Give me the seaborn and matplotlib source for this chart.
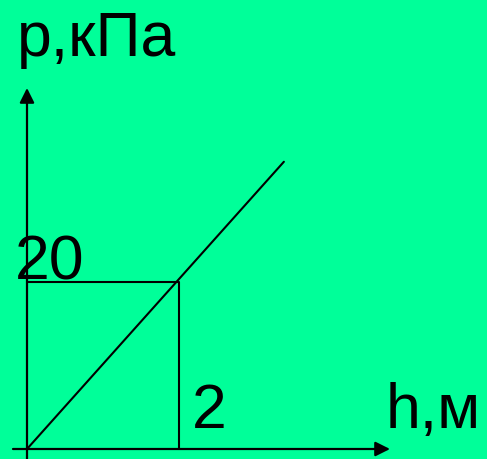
import matplotlib
matplotlib.use("Agg")
import matplotlib.pyplot as plt
import seaborn as sns
import pandas as pd

# data
h_line = [0.0, 3.38]
p_line = [0.0, 34.4]
h_mark = 2
p_mark = 20
x_label = "h,м"
y_label = "p,кПа"
x_tick_label = "2"
y_tick_label = "20"

BG = "#00FF99"
sns.set_style("white", {"axes.facecolor": BG, "figure.facecolor": BG})
plt.rcParams["font.family"] = ["Liberation Sans", "DejaVu Sans"]

fig = plt.figure(figsize=(4.87, 4.59), dpi=100)
ax = fig.add_axes([0, 0, 1, 1])
ax.set_facecolor(BG)

# pixel mapping: h=0 -> x 27, 76 px per m; p=0 -> y 449, 8.35 px per kPa
sx, sy = 76.0, 8.35
ax.set_xlim(-27 / sx, (487 - 27) / sx)
ax.set_ylim((449 - 459) / sy, 449 / sy)
ax.axis("off")

df = pd.DataFrame({"h": h_line, "p": p_line})
sns.lineplot(data=df, x="h", y="p", ax=ax, color="black", lw=1.5,
             estimator=None, sort=False)

box = pd.DataFrame({"h": [0, h_mark, h_mark], "p": [p_mark, p_mark, 0]})
sns.lineplot(data=box, x="h", y="p", ax=ax, color="black", lw=1.5,
             estimator=None, sort=False)

# axes arrows
arrow = dict(arrowstyle="-|>", color="black", lw=1.6, mutation_scale=22,
             shrinkA=0, shrinkB=0)
ax.annotate("", xy=(0, (449 - 88) / sy), xytext=(0, (449 - 460) / sy),
            arrowprops=arrow)
ax.annotate("", xy=((390 - 27) / sx, 0), xytext=((13 - 27) / sx, 0),
            arrowprops=arrow)

fs = 45
tc = "black"
ax.text((17 - 27) / sx, (449 - 56) / sy, y_label, fontsize=fs, ha="left", va="baseline", color=tc)
ax.text((15 - 27) / sx, (449 - 279) / sy, y_tick_label, fontsize=fs, ha="left", va="baseline", color=tc)
ax.text((192 - 27) / sx, (449 - 428) / sy, x_tick_label, fontsize=fs, ha="left", va="baseline", color=tc)
ax.text((386 - 27) / sx, (449 - 428) / sy, x_label, fontsize=fs, ha="left", va="baseline", color=tc)

fig.savefig("out.png", dpi=100, facecolor=BG)
